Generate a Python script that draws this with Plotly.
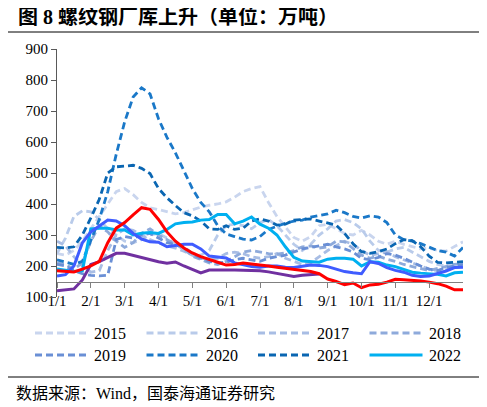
import plotly.graph_objects as go

# week positions, in months since 1/1
weeks = [0, 0.25, 0.5, 0.75, 1, 1.25, 1.5, 1.75, 2, 2.25, 2.5, 2.75, 3, 3.25, 3.5, 3.75,
         4, 4.25, 4.5, 4.75, 5, 5.25, 5.5, 5.75, 6, 6.25, 6.5, 6.75, 7, 7.25, 7.5, 7.75,
         8, 8.25, 8.5, 8.75, 9, 9.25, 9.5, 9.75, 10, 10.25, 10.5, 10.75, 11, 11.25, 11.5, 11.75, 12]
month_pos = [0, 1, 2, 3, 4, 5, 6, 7, 8, 9, 10, 11]
month_labels = ['1/1', '2/1', '3/1', '4/1', '5/1', '6/1', '7/1', '8/1', '9/1', '10/1', '11/1', '12/1']
y_ticks = [100, 200, 300, 400, 500, 600, 700, 800, 900]

y2015 = [240, 235, 250, 280, 320, 360, 400, 440, 450, 430, 405, 388, 382, 375, 368, 372, 382, 390, 396, 400,
         407, 422, 440, 450, 456, 405, 360, 325, 292, 280, 295, 330, 335, 320, 305, 300, 315, 300, 280, 270,
         280, 270, 262, 255, 258, 250, 248, 262, 278]
y2016 = [240, 290, 360, 378, 375, 350, 320, 300, 280, 275, 285, 300, 305, 290, 270, 255, 240, 235, 250, 300,
         330, 335, 330, 320, 340, 350, 330, 300, 270, 250, 270, 300, 320, 345, 350, 340, 320, 280, 250, 245,
         255, 260, 245, 230, 215, 205, 200, 205, 210]
y2017 = [280, 265, 230, 200, 180, 185, 250, 300, 320, 315, 300, 285, 275, 265, 258, 248, 235, 225, 220, 225,
         240, 245, 240, 230, 225, 230, 240, 225, 215, 205, 210, 230, 250, 265, 280, 270, 250, 235, 240, 245,
         230, 220, 210, 200, 190, 185, 188, 195, 200]
y2018 = [210, 205, 190, 210, 280, 330, 310, 280, 260, 275, 305, 320, 300, 285, 270, 255, 232, 220, 210, 205,
         215, 230, 245, 250, 245, 240, 238, 242, 250, 262, 265, 258, 262, 280, 278, 255, 235, 225, 232, 222,
         215, 205, 198, 190, 185, 192, 198, 205, 208]
y2019 = [205, 200, 185, 175, 170, 168, 170, 285, 295, 290, 300, 305, 290, 275, 270, 262, 240, 225, 215, 210,
         212, 220, 225, 220, 215, 225, 230, 235, 245, 255, 260, 265, 270, 262, 255, 245, 225, 220, 228, 240,
         235, 225, 212, 200, 190, 185, 195, 200, 205]
y2020 = [220, 212, 205, 215, 280, 350, 440, 560, 665, 745, 775, 755, 675, 615, 565, 505, 450, 405, 375, 330,
         303, 295, 287, 284, 295, 318, 328, 338, 345, 348, 358, 363, 368, 380, 372, 360, 355, 362, 358, 340,
         300, 285, 280, 272, 262, 250, 245, 232, 260]
y2021 = [260, 258, 262, 300, 355, 415, 500, 520, 522, 525, 515, 498, 450, 420, 395, 372, 362, 345, 320, 318,
         330, 318, 322, 345, 352, 345, 332, 335, 348, 350, 352, 345, 338, 332, 305, 272, 246, 241, 246, 255,
         272, 285, 282, 262, 232, 212, 210, 212, 214]
y2022 = [190, 185, 182, 185, 320, 322, 322, 316, 316, 300, 306, 308, 305, 318, 336, 340, 342, 348, 350, 366,
         366, 336, 345, 358, 335, 322, 300, 262, 228, 216, 213, 212, 222, 225, 225, 222, 200, 214, 212, 203,
         198, 188, 180, 177, 175, 173, 168, 178, 180]
y2023 = [168, 172, 200, 275, 310, 330, 348, 345, 330, 305, 287, 278, 277, 262, 265, 270, 270, 255, 232, 230,
         226, 210, 203, 198, 196, 200, 200, 196, 195, 200, 203, 202, 198, 190, 182, 178, 175, 214, 208, 195,
         186, 180, 170, 166, 168, 176, 184, 195, 196]
y2024 = [185, 183, 181, 190, 200, 215, 275, 322, 340, 365, 388, 383, 350, 310, 280, 258, 242, 230, 222, 212,
         203, 205, 210, 207, 205, 200, 196, 193, 190, 186, 182, 175, 158, 150, 140, 145, 130, 139, 141, 148,
         157, 156, 155, 152, 148, 143, 135, 123, 123]
y2025 = [120, 122, 126, 155, 205, 214, 228, 241, 241, 234, 228, 222, 214, 209, 213, 200, 190, 178, 187, 186,
         187, 187, 186, 186, 185, 181, 176, 172, 166, 170, 173, 174]

dashed = [
    ('2015', y2015, '#c9d5ee'),
    ('2016', y2016, '#b9cbea'),
    ('2017', y2017, '#a8bde4'),
    ('2018', y2018, '#8eaadb'),
    ('2019', y2019, '#6a8fd5'),
    ('2020', y2020, '#1a78c8'),
    ('2021', y2021, '#0a66b2'),
]
solid = [
    ('2022', y2022, '#00b0f0'),
    ('2023', y2023, '#3f5cff'),
    ('2025', y2025, '#7030a0'),
    ('2024', y2024, '#ff0000'),
]

# the page body has an 8px margin, so the figure is made 8px smaller
# and all screen positions below are shifted by OFF
OFF = 8
W, H = 487 - OFF, 407 - OFF
L, R, T, B = 57 - OFF, 24, 49 - OFF, 110
PW, PH = W - L - R, H - T - B
FONT = 'Liberation Serif, Noto Sans CJK SC'


def px(x):
    return (x - OFF - L) / PW


def py(y):
    return (H - B - (y - OFF)) / PH


fig = go.Figure()
for name, vals, color in dashed:
    fig.add_trace(go.Scatter(x=weeks[:len(vals)], y=vals, mode='lines', name=name,
                             line=dict(color=color, width=2.8, dash='7px,4px'), showlegend=False))
for name, vals, color in solid:
    fig.add_trace(go.Scatter(x=weeks[:len(vals)], y=vals, mode='lines', name=name,
                             line=dict(color=color, width=3), showlegend=False))

# legend drawn by hand (two rows of four)
shapes = []
annotations = []
legend_items = dashed + solid[:1]
for i, (name, vals, color) in enumerate(legend_items):
    col, row = i % 4, i // 4
    x0 = 35 + col * 111.5
    yy = 333 + row * 22
    shapes.append(dict(type='line', xref='paper', yref='paper',
                       x0=px(x0), x1=px(x0 + 53), y0=py(yy), y1=py(yy),
                       line=dict(color=color, width=3, dash='solid' if name == '2022' else '7px,4px')))
    annotations.append(dict(text=name, xref='paper', yref='paper', x=px(x0 + 57), y=py(yy),
                            xanchor='left', yanchor='middle', showarrow=False,
                            font=dict(family=FONT, size=16, color='black')))

# title, rules and source
shapes.append(dict(type='line', xref='paper', yref='paper', x0=px(5), x1=px(482), y0=py(32), y1=py(32),
                   line=dict(color='black', width=1)))
shapes.append(dict(type='line', xref='paper', yref='paper', x0=px(5), x1=px(482), y0=py(377), y1=py(377),
                   line=dict(color='black', width=1)))
annotations.append(dict(text='<b>图 8 螺纹钢厂库上升（单位：万吨）</b>', xref='paper', yref='paper',
                        x=px(16), y=py(17), xanchor='left', yanchor='middle', showarrow=False,
                        font=dict(family=FONT, size=20, color='black')))
annotations.append(dict(text='数据来源：Wind，国泰海通证券研究', xref='paper', yref='paper',
                        x=px(14), y=py(393), xanchor='left', yanchor='middle', showarrow=False,
                        font=dict(family=FONT, size=16, color='black')))

fig.update_layout(
    width=W, height=H,
    margin=dict(l=L, r=R, t=T, b=B),
    paper_bgcolor='white', plot_bgcolor='white',
    showlegend=False,
    font=dict(family=FONT, size=15, color='black'),
    shapes=shapes, annotations=annotations,
    xaxis=dict(range=[0, 12], tickmode='array', tickvals=month_pos, ticktext=month_labels,
               showgrid=False, zeroline=False, showline=True, linecolor='#808080', linewidth=1,
               ticks='outside', ticklen=5, tickcolor='#808080',
               anchor='free', position=(150 - 100) / 800,
               tickfont=dict(family=FONT, size=15, color='black')),
    yaxis=dict(range=[100, 900], tickmode='array', tickvals=y_ticks,
               showgrid=False, zeroline=False, showline=True, linecolor='#595959', linewidth=1,
               ticks='outside', ticklen=5, tickcolor='#595959',
               tickfont=dict(family=FONT, size=15, color='black')),
)

fig.write_html('out.html')
